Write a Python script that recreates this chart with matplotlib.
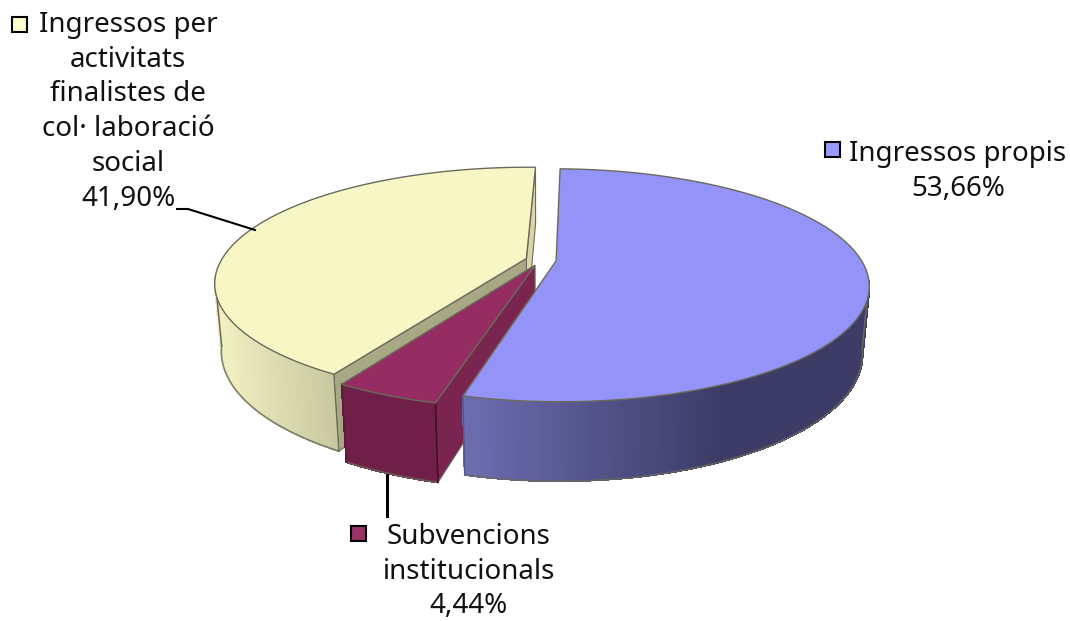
import numpy as np
import matplotlib
matplotlib.use('Agg')
import matplotlib.pyplot as plt
from matplotlib.colors import to_rgb

# Data
names = ['Ingressos propis', 'Subvencions\ninstitucionals', 'Ingressos per\nactivitats\nfinalistes de\ncol· laboració\nsocial']
values = [53.66, 4.44, 41.90]
pct_labels = ['53,66%', '4,44%', '41,90%']
colors = ['#9494f8', '#962d62', '#f7f7c6']
key_colors = ['#9999ff', '#993366', '#ffffcc']

# Camera for the tilted pie (pixels)
cx, cy = 541, 260
R, A, H = 305, 111, 67
k, kz = 0.21, 0.02
explode = 0.05
start = 1.5

def project(u, v, z=0):
    s = 1 / (1 - k * v + kz * z)
    return cx + R * u * s, cy + (A * v + H * z) * s

def radial(a, off, z=0):
    a = np.radians(a)
    return project(off[0] + np.sin(a), off[1] - np.cos(a), z)

def mix(c1, c2, t):
    c1, c2 = np.array(to_rgb(c1)), np.array(to_rgb(c2))
    return tuple(c1 + (c2 - c1) * t)

plt.rcParams['font.family'] = ['Noto Sans', 'DejaVu Sans']
fig = plt.figure(figsize=(10.70, 6.21), dpi=100)
ax = fig.add_axes([0, 0, 1, 1])
ax.set_xlim(0, 1070)
ax.set_ylim(621, 0)
ax.axis('off')

edge = '#6a6a5c'
angles = np.cumsum([0] + values) * 3.6 + start
slices = []
for i in range(3):
    mid = np.radians((angles[i] + angles[i + 1]) / 2)
    off = (explode * np.sin(mid), -explode * np.cos(mid))
    slices.append((angles[i], angles[i + 1], off))

def rim_wall(a0, a1, off, col_func, zorder):
    # outer wall of a slice, cut in narrow strips for the shading
    aa = np.append(np.arange(a0, a1, 1.0), a1)
    for a, b in zip(aa[:-1], aa[1:]):
        x0, y0 = radial(a, off)
        x1, y1 = radial(b, off)
        x2, y2 = radial(b, off, z=1)
        x3, y3 = radial(a, off, z=1)
        c = col_func((x0 + x1) / 2)
        ax.fill([x0, x1, x2, x3], [y0, y1, y2, y3], color=c, lw=0.8, antialiased=False, zorder=zorder)
    xb, yb = radial(aa, off, z=1)
    ax.plot(xb, yb, color=edge, lw=1.2, alpha=0.8, zorder=zorder)

def cut_face(a, off, color, zorder):
    x0, y0 = project(off[0], off[1])
    x1, y1 = radial(a, off)
    x2, y2 = radial(a, off, z=1)
    x3, y3 = project(off[0], off[1], 1)
    ax.fill([x0, x1, x2, x3], [y0, y1, y2, y3], facecolor=color, edgecolor=edge, lw=0.8, zorder=zorder)

def top_face(a0, a1, off, color, zorder):
    aa = np.linspace(a0, a1, 200)
    x, y = radial(aa, off)
    ox, oy = project(off[0], off[1])
    ax.fill(np.r_[ox, x], np.r_[oy, y], facecolor=color, edgecolor=edge, lw=1.0, zorder=zorder)

def corner(a, off, color, zorder):
    x0, y0 = radial(a, off)
    x1, y1 = radial(a, off, z=1)
    ax.plot([x0, x1], [y0, y1], color=color, lw=1.1, zorder=zorder)

# Yellow slice first, it lies at the back
a0, a1, off = slices[2]
cut_face(a1, off, '#d6d6a8', 1)
cut_face(a0, off, '#a8a884', 1)
rim_wall(a0, 260, off, lambda x: mix('#c8c8a0', '#eeeec0', min(1, (333 - x) / 110)), 2)
corner(a0, off, edge, 3)
corner(260, off, edge, 3)
top_face(a0, a1, off, colors[2], 4)

# Red slice
a0, a1, off = slices[1]
cut_face(a0, off, '#7a2450', 5)
rim_wall(a0, a1, off, lambda x: '#702048', 5)
corner(a0, off, '#3c1028', 6)
corner(a1, off, '#5a1a3a', 6)
top_face(a0, a1, off, colors[1], 6)

# Blue slice on top
a0, a1, off = slices[0]
rim_wall(100, a1, off, lambda x: mix('#6c6cb0', '#3c3c66', min(1, max(0, (x - 465) / 255))), 7)
corner(a1, off, '#56568c', 7)
corner(100, off, edge, 7)
top_face(a0, a1, off, colors[0], 8)

# Leader lines
ax.plot([177, 188, 255], [209, 209, 230], color='black', lw=1.5, zorder=9)
ax.plot([387, 387], [475, 516], color='black', lw=2.2, zorder=9)

# Labels and keys
text_pos = [(958, 140), (469, 523), (128, 11)]
key_pos = [(825, 142), (351, 526), (12, 17)]
key_size = 15
for i in range(3):
    ax.text(text_pos[i][0], text_pos[i][1], names[i] + '\n' + pct_labels[i], ha='center', va='top',
            fontsize=20, linespacing=1.32, color='#111111', zorder=10)
    kx, ky = key_pos[i]
    ax.fill([kx, kx + key_size, kx + key_size, kx], [ky, ky, ky + key_size, ky + key_size],
            facecolor=key_colors[i], edgecolor='black', lw=1.5, zorder=10)

fig.savefig('out.png', dpi=100, facecolor='white')
